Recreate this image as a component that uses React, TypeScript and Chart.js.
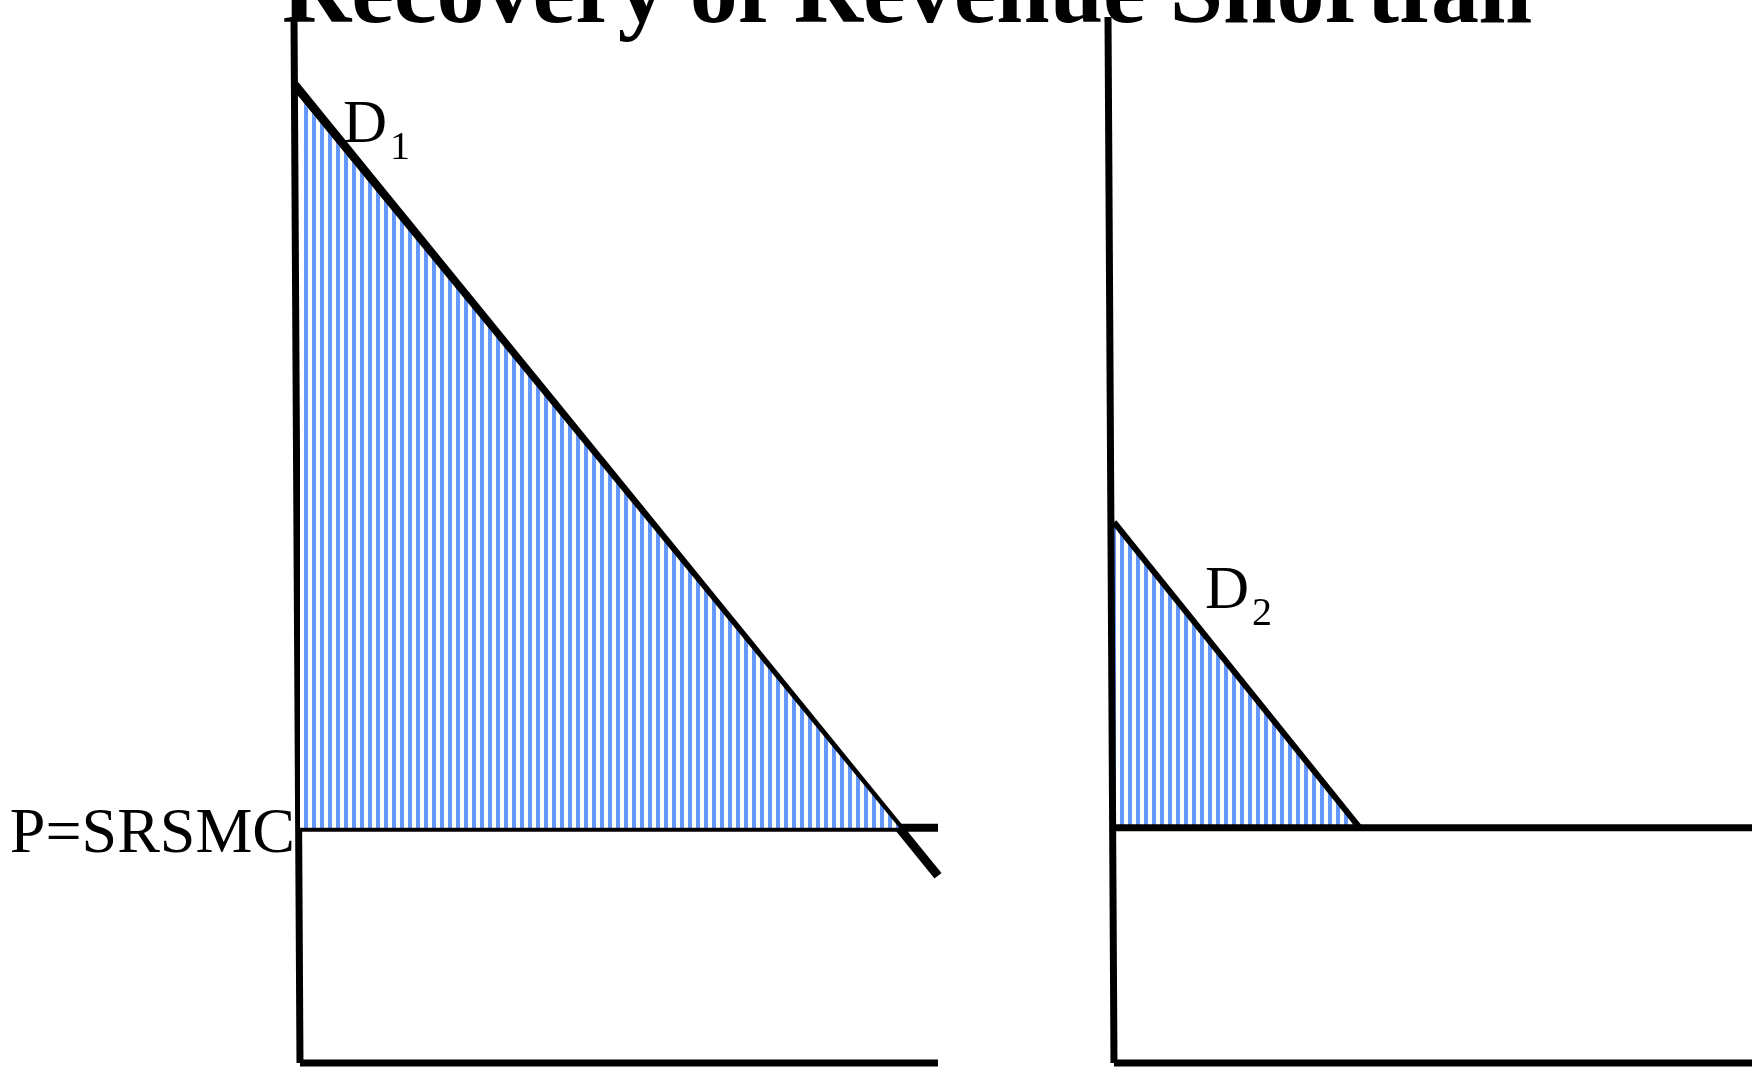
import React, { useEffect, useRef } from "react";
import { Chart, registerables } from "chart.js";

Chart.register(...registerables);

// ---- data (economic units: quantity on x, price on y) ----
const TITLE = "Recovery of Revenue Shortfall";
const PRICE_LABEL = "P=SRSMC";
const PRICE = 2.25;
const Q_RANGE = [0, 10];
const P_RANGE = [0, 10];
const AXIS_TOP_Q = -0.094;

const D1_Q = [-0.08, 10];
const D1_P = [9.35, 1.79];
const D1_HATCH_Q = [0, 9.39];
const D1_HATCH_P = [9.22, 2.25];

const D2_Q = [0, 3.85];
const D2_P = [5.17, 2.25];
const D2_HATCH_Q = [0, 3.85];
const D2_HATCH_P = [5.17, 2.25];

const SERIF = '"Liberation Serif", "Times New Roman", serif';
const HATCH_BLUE = "#6699FF";

const pts = (qs: number[], ps: number[]) => qs.map((q, i) => ({ x: q, y: ps[i] }));

function makePattern(ctx: CanvasRenderingContext2D) {
  const c = document.createElement("canvas");
  c.width = 8;
  c.height = 8;
  const g = c.getContext("2d")!;
  g.fillStyle = "#ffffff";
  g.fillRect(0, 0, 8, 8);
  g.fillStyle = HATCH_BLUE;
  g.fillRect(0, 0, 4, 8);
  return ctx.createPattern(c, "repeat")!;
}

type PanelProps = {
  left: number;
  width: number;
  padLeft: number;
  padRight: number;
  dQ: number[];
  dP: number[];
  hQ: number[];
  hP: number[];
  hatchOnTop: boolean;
  demandWidth: number;
  priceWidth: number;
  sub: string;
  labelDx: number;
  labelBaselineDy: number;
  showPriceLabel: boolean;
};

function Panel(p: PanelProps) {
  const ref = useRef<HTMLCanvasElement | null>(null);
  useEffect(() => {
    const canvas = ref.current!;
    const ctx = canvas.getContext("2d")!;
    const pattern = makePattern(ctx);
    const line = (data: any[], w: number, order: number) => ({
      data,
      showLine: true,
      borderColor: "#000000",
      borderWidth: w,
      pointRadius: 0,
      fill: false,
      clip: false,
      order,
      borderCapStyle: "butt",
    });
    const labels = {
      id: "labels",
      afterDatasetsDraw(chart: any) {
        const c = chart.ctx;
        const xs = chart.scales.x;
        const ys = chart.scales.y;
        c.save();
        c.fillStyle = "#000";
        c.textBaseline = "alphabetic";
        const x0 = xs.getPixelForValue(0);
        const yP = ys.getPixelForValue(PRICE);
        const dx = x0 + p.labelDx;
        const dy = yP + p.labelBaselineDy;
        c.textAlign = "left";
        c.font = `61px ${SERIF}`;
        c.fillText("D", dx, dy);
        const w = c.measureText("D").width;
        c.font = `40px ${SERIF}`;
        c.fillText(p.sub, dx + w + 3, dy + 17);
        if (p.showPriceLabel) {
          c.textAlign = "right";
          c.font = `64px ${SERIF}`;
          c.fillText(PRICE_LABEL, x0 - 5, yP + 24);
        }
        c.restore();
      },
    };
    const chart = new Chart(canvas, {
      type: "scatter",
      data: {
        datasets: [
          {
            data: pts(p.hQ, p.hP),
            showLine: true,
            borderWidth: 0,
            borderColor: "rgba(0,0,0,0)",
            pointRadius: 0,
            backgroundColor: pattern,
            fill: { value: PRICE },
            clip: false,
            order: p.hatchOnTop ? 0 : 5,
          } as any,
          line([{ x: AXIS_TOP_Q, y: P_RANGE[1] }, { x: 0, y: 0 }], 7, 1) as any,
          line([{ x: 0, y: 0 }, { x: Q_RANGE[1], y: 0 }], 7, 1) as any,
          line([{ x: 0, y: PRICE }, { x: Q_RANGE[1], y: PRICE }], p.priceWidth, 1) as any,
          line(pts(p.dQ, p.dP), p.demandWidth, 1) as any,
        ],
      },
      options: {
        animation: false,
        responsive: false,
        maintainAspectRatio: false,
        layout: { padding: { left: p.padLeft, right: p.padRight, top: 17, bottom: 5 } },
        scales: {
          x: { type: "linear", min: Q_RANGE[0], max: Q_RANGE[1], display: false },
          y: { type: "linear", min: P_RANGE[0], max: P_RANGE[1], display: false },
        },
        plugins: { legend: { display: false }, tooltip: { enabled: false }, title: { display: false } },
        events: [],
      },
      plugins: [labels],
    });
    return () => chart.destroy();
  }, []);
  return (
    <canvas
      ref={ref}
      width={p.width}
      height={1068}
      style={{ position: "fixed", top: 0, left: p.left, width: p.width, height: 1068 }}
    />
  );
}

export default function App() {
  return (
    <div>
      <Panel
        left={0}
        width={960}
        padLeft={300}
        padRight={22}
        dQ={D1_Q}
        dP={D1_P}
        hQ={D1_HATCH_Q}
        hP={D1_HATCH_P}
        hatchOnTop={true}
        demandWidth={9}
        priceWidth={8}
        sub="1"
        labelDx={43}
        labelBaselineDy={-686}
        showPriceLabel={true}
      />
      <Panel
        left={960}
        width={795}
        padLeft={154}
        padRight={3}
        dQ={D2_Q}
        dP={D2_P}
        hQ={D2_HATCH_Q}
        hP={D2_HATCH_P}
        hatchOnTop={false}
        demandWidth={6}
        priceWidth={7}
        sub="2"
        labelDx={91}
        labelBaselineDy={-220}
        showPriceLabel={false}
      />
      <div
        style={{
          position: "fixed",
          left: 282,
          top: -58.4,
          margin: 0,
          font: `bold 96px ${SERIF}`,
          lineHeight: 1,
          whiteSpace: "nowrap",
          color: "#000",
        }}
      >
        {TITLE}
      </div>
    </div>
  );
}
